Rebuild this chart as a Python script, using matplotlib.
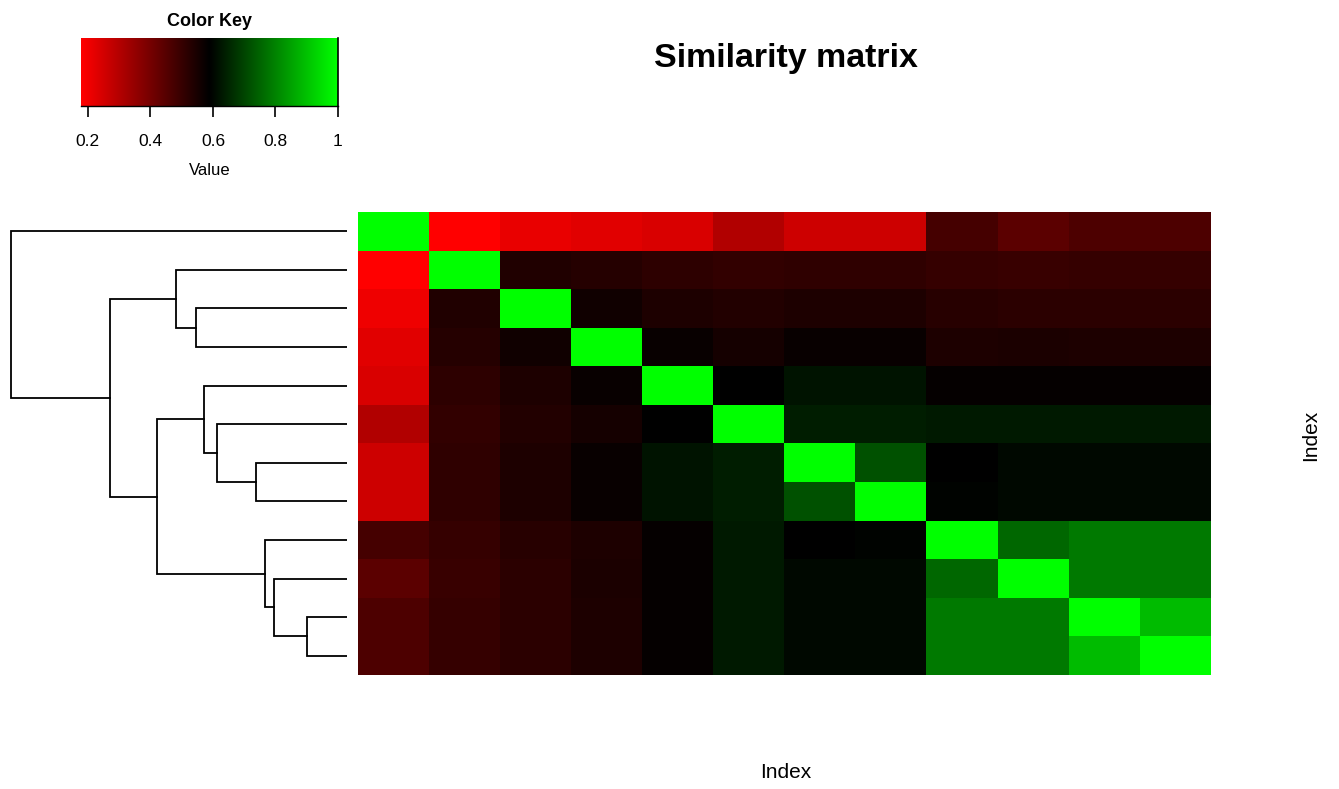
import numpy as np
import matplotlib
matplotlib.use("Agg")
import matplotlib.pyplot as plt
from matplotlib.colors import LinearSegmentedColormap

plt.rcParams['font.family'] = ['Liberation Sans', 'DejaVu Sans']

# similarity values, rows/cols already in dendrogram order
sim = [
    [1.000, 0.178, 0.215, 0.228, 0.241, 0.305, 0.260, 0.260, 0.478, 0.444, 0.465, 0.465],
    [0.178, 1.000, 0.537, 0.529, 0.518, 0.507, 0.512, 0.512, 0.504, 0.499, 0.504, 0.504],
    [0.205, 0.537, 1.000, 0.563, 0.541, 0.534, 0.541, 0.541, 0.525, 0.521, 0.521, 0.521],
    [0.228, 0.529, 0.563, 1.000, 0.576, 0.555, 0.573, 0.573, 0.544, 0.547, 0.544, 0.544],
    [0.241, 0.518, 0.541, 0.576, 1.000, 0.589, 0.618, 0.618, 0.581, 0.581, 0.581, 0.581],
    [0.305, 0.507, 0.534, 0.555, 0.589, 1.000, 0.637, 0.637, 0.628, 0.628, 0.628, 0.628],
    [0.260, 0.512, 0.541, 0.573, 0.618, 0.637, 1.000, 0.718, 0.589, 0.602, 0.602, 0.602],
    [0.260, 0.512, 0.541, 0.573, 0.618, 0.637, 0.718, 1.000, 0.595, 0.602, 0.602, 0.602],
    [0.478, 0.504, 0.525, 0.544, 0.581, 0.628, 0.589, 0.595, 1.000, 0.753, 0.782, 0.782],
    [0.444, 0.499, 0.521, 0.547, 0.581, 0.628, 0.602, 0.602, 0.753, 1.000, 0.782, 0.782],
    [0.465, 0.504, 0.521, 0.544, 0.581, 0.628, 0.602, 0.602, 0.782, 0.782, 1.000, 0.890],
    [0.465, 0.504, 0.521, 0.544, 0.581, 0.628, 0.602, 0.602, 0.782, 0.782, 0.890, 1.000],
]

# row dendrogram merges: (left id, right id, height); leaves are 0..11, clusters 12..
merges = [
    (10, 11, 40), (9, 12, 73), (8, 13, 82), (6, 7, 91), (5, 15, 130),
    (4, 16, 143), (2, 3, 151), (1, 18, 171), (17, 14, 190), (19, 20, 237),
    (0, 21, 336),
]

key_ticks = [0.2, 0.4, 0.6, 0.8, 1.0]
key_labels = ['0.2', '0.4', '0.6', '0.8', '1']
vmin, vmax = 0.178, 1.0

cmap = LinearSegmentedColormap.from_list('redgreen', ['#ff0000', '#000000', '#00ff00'], N=256)
mat = np.array(sim)
n = mat.shape[0]

W, H = 1339, 789
fig = plt.figure(figsize=(W / 100, H / 100), dpi=100)

def px_axes(x0, y0, x1, y1):
    return fig.add_axes([x0 / W, 1 - y1 / H, (x1 - x0) / W, (y1 - y0) / H])

# heatmap
ax = px_axes(358, 212, 1211, 675)
ax.imshow(mat, cmap=cmap, vmin=vmin, vmax=vmax, aspect='auto', interpolation='nearest',
          extent=(-0.5, n - 0.5, n - 0.5, -0.5))
ax.set_xticks([])
ax.set_yticks([])
for s in ax.spines.values():
    s.set_visible(False)

# dendrogram
dax = px_axes(10, 212, 347, 675)
pos = {i: float(i) for i in range(n)}
hgt = {i: 0.0 for i in range(n)}
for k, (a, b, h) in enumerate(merges):
    cid = n + k
    ya, yb = pos[a], pos[b]
    dax.plot([hgt[a], h, h, hgt[b]], [ya, ya, yb, yb], color='black', lw=1.3, solid_joinstyle='miter')
    pos[cid] = (ya + yb) / 2
    hgt[cid] = h
dax.set_xlim(337, 0)
dax.set_ylim(n - 0.5, -0.5)
dax.axis('off')

# color key
kax = px_axes(81, 38, 338, 106)
grad = np.linspace(vmin, vmax, 256).reshape(1, -1)
kax.imshow(grad, cmap=cmap, vmin=vmin, vmax=vmax, aspect='auto', extent=(vmin, vmax, 0, 1))
kax.set_xlim(vmin, vmax)
kax.set_yticks([])
kax.set_xticks(key_ticks)
kax.set_xticklabels(key_labels, fontsize=12.5)
kax.tick_params(axis='x', length=8, width=1.2, pad=12)
for s in ['top', 'left']:
    kax.spines[s].set_visible(False)
kax.spines['bottom'].set_linewidth(1)
kax.spines['right'].set_linewidth(1.2)
kax.set_xlabel('Value', fontsize=12, labelpad=10)
kax.set_title('Color Key', fontsize=13, fontweight='bold', pad=9)

fig.text(786 / W, 1 - 58 / H, 'Similarity matrix', fontsize=24.5, fontweight='bold',
         ha='center', va='center')
fig.text(786 / W, 1 - 772 / H, 'Index', fontsize=15, ha='center', va='center')
fig.text(1311 / W, 1 - 435 / H, 'Index', fontsize=15, ha='center', va='center', rotation=90)

fig.savefig('out.png', dpi=100)
